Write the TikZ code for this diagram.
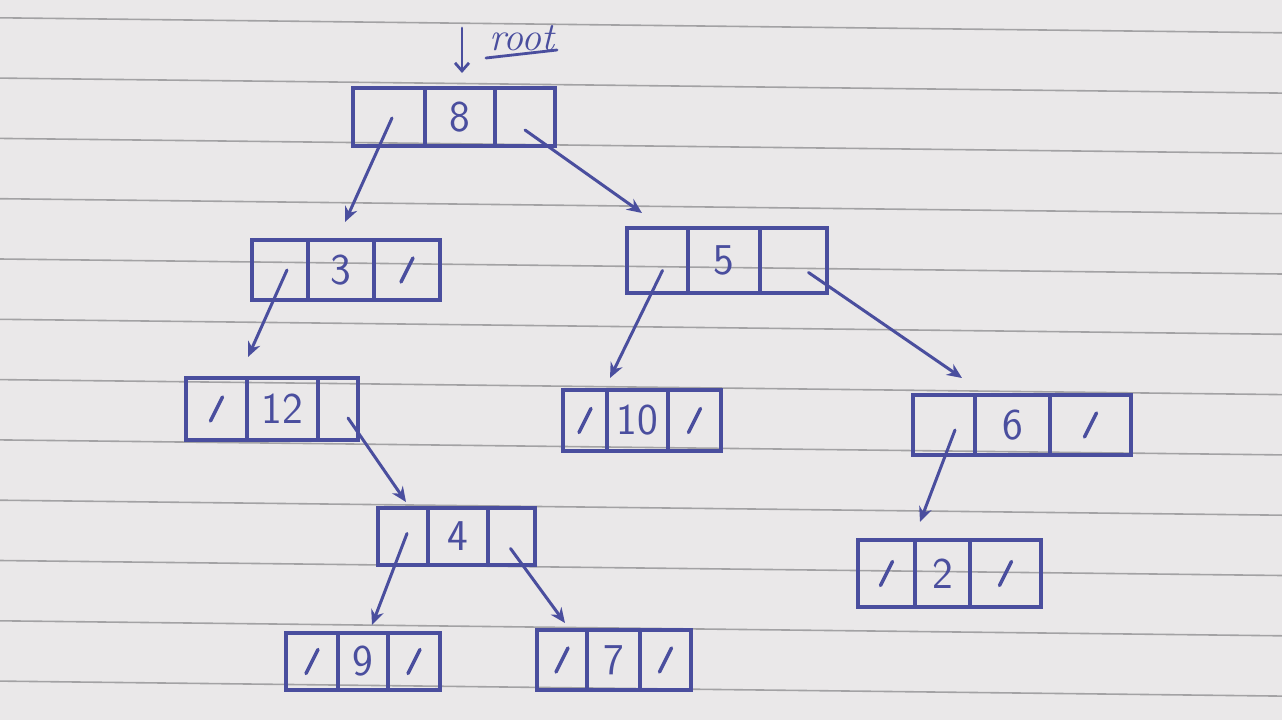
\documentclass[tikz,border=0pt]{standalone}
\usetikzlibrary{arrows.meta}
\definecolor{ink}{HTML}{4A4E9E}
\definecolor{paper}{HTML}{EAE8E9}
\definecolor{ruling}{HTML}{A3A2A4}
\tikzset{
  box/.style={draw=ink, line width=3.2pt, inner sep=0pt, outer sep=0pt},
  cellline/.style={draw=ink, line width=3.2pt},
  val/.style={text=ink, font=\sffamily\fontsize{44}{44}\selectfont, inner sep=0pt},
  nullmark/.style={draw=ink, line width=3.4pt, line cap=round},
  ptr/.style={draw=ink, line width=3pt, line cap=round, -{Stealth[length=15pt,width=13pt]}},
  rootptr/.style={draw=ink, line width=2.8pt, line cap=round, -{Straight Barb[length=8pt,width=14pt]}},
  paperline/.style={draw=ruling, line width=1.6pt},
}
% name, x1, y1, x2, y2, divider1, divider2, value
\newcommand\treenode[8]{%
  \node[box, minimum width={#4-#2}, minimum height={#5-#3}] (#1) at ({(#2+#4)/2},{(#3+#5)/2}) {};
  \draw[cellline] (#6,#3) -- (#6,#5);
  \draw[cellline] (#7,#3) -- (#7,#5);
  \node[val] (#1v) at ({(#6+#7)/2},{(#3+#5)/2}) {#8};
  \coordinate (#1L) at ({(#2+#6)/2},{(#3+#5)/2});
  \coordinate (#1R) at ({(#7+#4)/2},{(#3+#5)/2});
}
\newcommand\nullin[1]{%
  \draw[nullmark] ([shift={(-6,12)}]#1) -- ([shift={(6,-12)}]#1);
}
\begin{document}
\begin{tikzpicture}[x=1pt,y=-1pt]
  \fill[paper] (0,0) rectangle (1282,720);
  \useasboundingbox (0,0) rectangle (1282,720);
  % ruled paper
  \foreach \k in {-4,...,8} {
    \draw[paperline] (0,{259+60.3*\k}) -- (1282,{259+60.3*\k+15});
  }

  % nodes
  \treenode{n8}{353}{88}{555}{146}{425}{495}{8}
  \treenode{n3}{252}{240}{440}{300}{308}{374}{3}
  \treenode{n5}{627}{228}{827}{293}{688}{760}{5}
  \treenode{n12}{186}{378}{358}{440}{247}{318}{12}
  \treenode{n10}{563}{390}{721}{451}{607}{668}{10}
  \treenode{n6}{913}{395}{1131}{455}{975}{1050}{6}
  \treenode{n4}{378}{508}{535}{565}{428}{488}{4}
  \treenode{n2}{858}{540}{1041}{607}{915}{970}{2}
  \treenode{n9}{286}{633}{440}{690}{338}{388}{9}
  \treenode{n7}{537}{630}{691}{690}{587}{640}{7}

  % null pointers
  \nullin{n3R}
  \nullin{n12L}
  \nullin{n10L}
  \nullin{n10R}
  \nullin{n6R}
  \nullin{n2L}
  \nullin{n2R}
  \nullin{n9L}
  \nullin{n9R}
  \nullin{n7L}
  \nullin{n7R}

  % root label
  \node[text=ink, font=\itshape\fontsize{40}{40}\selectfont, inner sep=0pt] (rootlbl) at (522,38) {root};
  \draw[ink, line width=2.8pt, line cap=round] ([shift={(-36,20)}]rootlbl.center) -- ([shift={(35,12)}]rootlbl.center);
  \coordinate (rs) at (462,28);
  \draw[rootptr] (rs) -- ([shift={(8,-15)}]n8.north);

  % child pointers
  \draw[ptr] ([shift={(3,1)}]n8L) -- ([shift={(-1,-18)}]n3.north);
  \draw[ptr] ([shift={(0,13)}]n8R) -- ([shift={(15,-15)}]n5.north west);
  \draw[ptr] ([shift={(7,0)}]n3L) -- ([shift={(-24,-21)}]n12.north);
  \draw[ptr] ([shift={(5,10)}]n5L) -- ([shift={(47,-12)}]n10.north west);
  \draw[ptr] ([shift={(15,12)}]n5R) -- ([shift={(49,-17)}]n6.north west);
  \draw[ptr] ([shift={(10,9)}]n12R) -- ([shift={(28,-6)}]n4.north west);
  \draw[ptr] ([shift={(11,5)}]n6L) -- ([shift={(62,-18)}]n2.north west);
  \draw[ptr] ([shift={(4,-3)}]n4L) -- ([shift={(9,-8)}]n9.north);
  \draw[ptr] ([shift={(-1,12)}]n4R) -- ([shift={(28,-7)}]n7.north west);
\end{tikzpicture}
\end{document}
